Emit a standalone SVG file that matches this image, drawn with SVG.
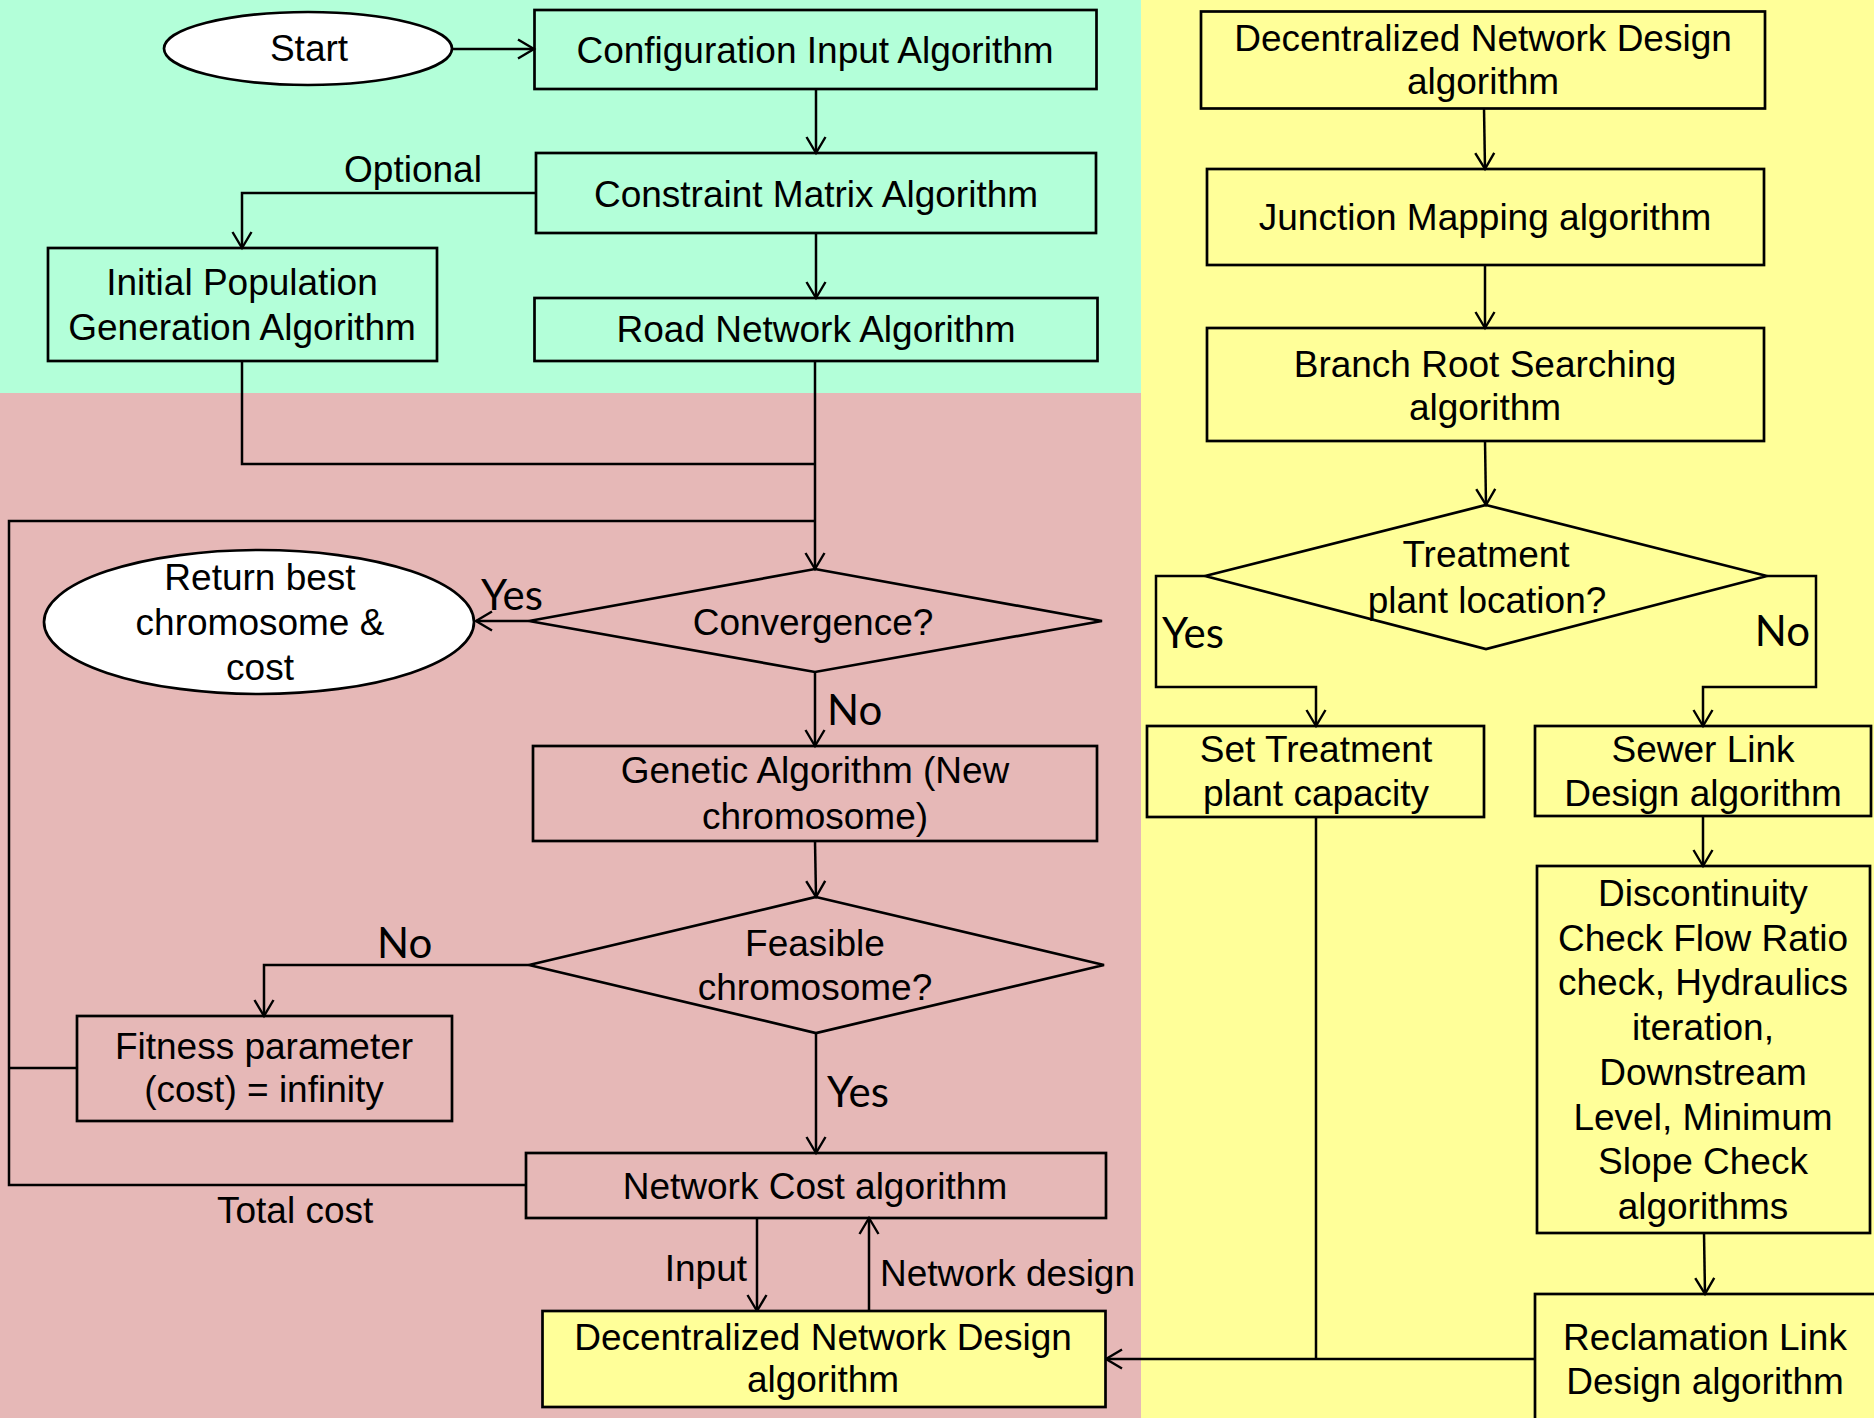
<svg xmlns="http://www.w3.org/2000/svg" width="1874" height="1418" viewBox="0 0 1874 1418">
<style>
text{font-family:"Liberation Sans",Arial,sans-serif;font-size:37px;fill:#000}
.c{text-anchor:middle}
.cal{font-family:Lato,"Liberation Sans",sans-serif;font-size:42px}
.box{stroke:#000;stroke-width:2.7;fill:none}
.yb{fill:#FFFF99}
.wb{fill:#fff}
.ln{stroke:#000;stroke-width:2.5;fill:none}
.ar{marker-end:url(#arr)}
</style>
<defs>
<marker id="arr" markerUnits="userSpaceOnUse" markerWidth="40" markerHeight="40" viewBox="-20 -20 40 40" refX="0" refY="0" orient="auto" overflow="visible">
<path d="M-16,-9.5 L0,0 L-16,9.5" fill="none" stroke="#000" stroke-width="2.4"/>
</marker>
</defs>
<g id="background">
<rect x="0" y="0" width="1141" height="393" fill="#B3FFD9"/>
<rect x="0" y="393" width="1141" height="1025" fill="#E6B8B7"/>
<rect x="1141" y="0" width="733" height="1418" fill="#FFFF99"/>
</g>
<g id="connectors">
<path class="ln ar" d="M452,49 L534,49"/>
<path class="ln ar" d="M816,89 L816,153"/>
<path class="ln ar" d="M536,193 L242,193 L242,248"/>
<path class="ln ar" d="M816,233 L816,298"/>
<path class="ln" d="M242,361 L242,464 L815,464"/>
<path class="ln ar" d="M815,361 L815,569"/>
<path class="ln" d="M526,1185 L9,1185 L9,521 L815,521"/>
<path class="ln" d="M77,1068 L9,1068"/>
<path class="ln ar" d="M529,621 L476,621"/>
<path class="ln ar" d="M815,672 L815,746"/>
<path class="ln ar" d="M815,841 L816,897"/>
<path class="ln ar" d="M529,965 L264,965 L264,1016"/>
<path class="ln ar" d="M816,1033 L816,1153"/>
<path class="ln ar" d="M757,1218 L757,1311"/>
<path class="ln ar" d="M869,1311 L869,1218"/>
<path class="ln ar" d="M1484,108 L1485,169"/>
<path class="ln ar" d="M1485,265 L1485,328"/>
<path class="ln ar" d="M1485,441 L1486,505"/>
<path class="ln ar" d="M1205,576 L1156,576 L1156,687 L1316,687 L1316,726"/>
<path class="ln ar" d="M1767,576 L1816,576 L1816,687 L1703,687 L1703,726"/>
<path class="ln ar" d="M1703,816 L1703,866"/>
<path class="ln ar" d="M1704,1233 L1705,1294"/>
<path class="ln" d="M1316,817 L1316,1359"/>
<path class="ln ar" d="M1535,1359 L1106,1359"/>
</g>
<g id="start">
<ellipse class="box wb" cx="308" cy="48.5" rx="144" ry="36.5"/>
<text class="c" x="309" y="61">Start</text>
</g>
<g id="config-input">
<rect class="box" x="534.5" y="10" width="562" height="79"/>
<text class="c" x="815" y="63">Configuration Input Algorithm</text>
</g>
<g id="constraint-matrix">
<rect class="box" x="536" y="153" width="560" height="80"/>
<text class="c" x="816" y="207">Constraint Matrix Algorithm</text>
<text x="413" y="182" class="c">Optional</text>
</g>
<g id="initial-population">
<rect class="box" x="48" y="248" width="389" height="113"/>
<text class="c" x="242" y="295">Initial Population</text>
<text class="c" x="242" y="340">Generation Algorithm</text>
</g>
<g id="road-network">
<rect class="box" x="534.5" y="298" width="563" height="63"/>
<text class="c" x="816" y="342">Road Network Algorithm</text>
</g>
<g id="return-best">
<ellipse class="box wb" cx="259" cy="622" rx="215" ry="72"/>
<text class="c" x="260" y="590">Return best</text>
<text class="c" x="260" y="635">chromosome &amp;</text>
<text class="c" x="260" y="680">cost</text>
</g>
<g id="convergence">
<polygon class="box" points="815,569 1102,621 815,672 529,621"/>
<text class="c" x="813" y="635">Convergence?</text>
<text class="cal" x="481" y="610">Yes</text>
<text class="cal" x="827" y="725">No</text>
</g>
<g id="genetic">
<rect class="box" x="533" y="746" width="564" height="95"/>
<text class="c" x="815" y="783">Genetic Algorithm (New</text>
<text class="c" x="815" y="829">chromosome)</text>
</g>
<g id="feasible">
<polygon class="box" points="816,897 1104,965 816,1033 529,965"/>
<text class="c" x="815" y="956">Feasible</text>
<text class="c" x="815" y="1000">chromosome?</text>
<text class="cal" x="377" y="958">No</text>
<text class="cal" x="827" y="1107">Yes</text>
</g>
<g id="fitness">
<rect class="box" x="77" y="1016" width="375" height="105"/>
<text class="c" x="264" y="1059">Fitness parameter</text>
<text class="c" x="264" y="1102">(cost) = infinity</text>
</g>
<g id="network-cost">
<rect class="box" x="526" y="1153" width="580" height="65"/>
<text class="c" x="815" y="1199">Network Cost algorithm</text>
<text x="217" y="1223">Total cost</text>
<text x="747" y="1281" text-anchor="end">Input</text>
<text x="880" y="1286">Network design</text>
</g>
<g id="dnd-bottom">
<rect class="box yb" x="542.5" y="1311" width="563" height="96"/>
<text class="c" x="823" y="1350">Decentralized Network Design</text>
<text class="c" x="823" y="1392">algorithm</text>
</g>
<g id="dnd-top">
<rect class="box" x="1201" y="11.5" width="564" height="97"/>
<text class="c" x="1483" y="51">Decentralized Network Design</text>
<text class="c" x="1483" y="94">algorithm</text>
</g>
<g id="junction">
<rect class="box" x="1207" y="169" width="557" height="96"/>
<text class="c" x="1485" y="230">Junction Mapping algorithm</text>
</g>
<g id="branch-root">
<rect class="box" x="1207" y="328" width="557" height="113"/>
<text class="c" x="1485" y="377">Branch Root Searching</text>
<text class="c" x="1485" y="420">algorithm</text>
</g>
<g id="treatment">
<polygon class="box" points="1486,505 1767,576 1486,649 1205,576"/>
<text class="c" x="1486" y="567">Treatment</text>
<text class="c" x="1487" y="613">plant location?</text>
<text class="cal" x="1162" y="648">Yes</text>
<text class="cal" x="1810" y="646" text-anchor="end">No</text>
</g>
<g id="set-treatment">
<rect class="box" x="1147" y="726" width="337" height="91"/>
<text class="c" x="1316" y="762">Set Treatment</text>
<text class="c" x="1316" y="806">plant capacity</text>
</g>
<g id="sewer-link">
<rect class="box" x="1535" y="726" width="336" height="90"/>
<text class="c" x="1703" y="762">Sewer Link</text>
<text class="c" x="1703" y="806">Design algorithm</text>
</g>
<g id="discontinuity">
<rect class="box" x="1537" y="866" width="333" height="367"/>
<text class="c" x="1703" y="906">Discontinuity</text>
<text class="c" x="1703" y="951">Check Flow Ratio</text>
<text class="c" x="1703" y="995">check, Hydraulics</text>
<text class="c" x="1703" y="1040">iteration,</text>
<text class="c" x="1703" y="1085">Downstream</text>
<text class="c" x="1703" y="1130">Level, Minimum</text>
<text class="c" x="1703" y="1174">Slope Check</text>
<text class="c" x="1703" y="1219">algorithms</text>
</g>
<g id="reclamation">
<rect class="box" x="1535" y="1294" width="360" height="150"/>
<text class="c" x="1705" y="1350">Reclamation Link</text>
<text class="c" x="1705" y="1394">Design algorithm</text>
</g>
</svg>
